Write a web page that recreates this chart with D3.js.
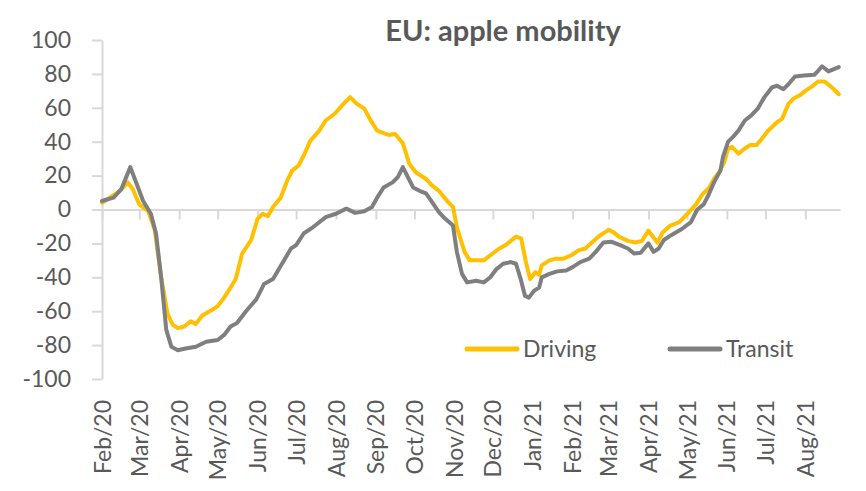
<!DOCTYPE html>
<html>
<head>
<meta charset="utf-8">
<script src="https://cdn.jsdelivr.net/npm/d3@7"></script>
<style>
  body { margin: 0; background: #fff; }
  text { font-family: "Lato", "Open Sans", sans-serif; fill: #595959; }
</style>
</head>
<body>
<div id="chart"></div>
<script>
// values (7-day averages, % vs baseline)
var drivingDates = ["2020-02-01","2020-02-15","2020-02-21","2020-02-25","2020-03-01","2020-03-08","2020-03-13","2020-03-18","2020-03-23","2020-03-27","2020-03-31","2020-04-05","2020-04-10","2020-04-14","2020-04-19","2020-04-26","2020-05-01","2020-05-06","2020-05-11","2020-05-15","2020-05-20","2020-05-27","2020-06-01","2020-06-05","2020-06-09","2020-06-13","2020-06-19","2020-06-24","2020-06-28","2020-07-03","2020-07-07","2020-07-12","2020-07-19","2020-07-24","2020-07-31","2020-08-07","2020-08-12","2020-08-17","2020-08-23","2020-08-28","2020-09-02","2020-09-07","2020-09-11","2020-09-16","2020-09-22","2020-09-27","2020-10-02","2020-10-10","2020-10-15","2020-10-20","2020-10-27","2020-10-31","2020-11-03","2020-11-09","2020-11-13","2020-11-18","2020-11-24","2020-11-29","2020-12-06","2020-12-11","2020-12-15","2020-12-19","2020-12-23","2020-12-27","2020-12-30","2021-01-03","2021-01-06","2021-01-08","2021-01-14","2021-01-19","2021-01-25","2021-01-31","2021-02-06","2021-02-11","2021-02-16","2021-02-22","2021-03-01","2021-03-05","2021-03-09","2021-03-16","2021-03-22","2021-03-27","2021-04-01","2021-04-05","2021-04-08","2021-04-12","2021-04-18","2021-04-25","2021-05-02","2021-05-08","2021-05-13","2021-05-18","2021-05-22","2021-05-26","2021-05-30","2021-06-02","2021-06-05","2021-06-10","2021-06-15","2021-06-19","2021-06-24","2021-06-28","2021-07-03","2021-07-10","2021-07-14","2021-07-19","2021-07-23","2021-07-28","2021-08-01","2021-08-06","2021-08-11","2021-08-16","2021-08-21","2021-08-27"];
var drivingValues = [4,11,16,12,3,-1,-12,-40,-61.5,-68,-70,-69,-66,-67.5,-62.5,-59.5,-57,-52,-46,-41,-26,-18,-5.5,-2.5,-4,1.5,7,17,23,26,32,40.5,46.5,52.5,56.5,62.5,66.3,62.5,59.5,52.5,46.5,45,44,44.5,39,27,22,18,14,11,4.5,1.5,-10.5,-25,-30,-30,-30,-27,-23,-21,-18.5,-16,-17,-32,-41,-37,-38.5,-33,-30,-29,-29,-27,-24,-23,-19.5,-15.5,-12,-13.5,-16,-18.5,-19.5,-18.5,-12.5,-16.5,-19.5,-13.5,-9.5,-7.5,-2,3,9,12.5,18,22,28,36,37,33,36,38,38,41.5,46.5,51.5,53.5,62.5,65.5,67.5,70,72.5,75.5,75.5,72.5,68];

var transitDates = ["2020-02-01","2020-02-10","2020-02-16","2020-02-23","2020-02-28","2020-03-04","2020-03-10","2020-03-14","2020-03-18","2020-03-22","2020-03-26","2020-03-31","2020-04-06","2020-04-14","2020-04-22","2020-05-01","2020-05-06","2020-05-11","2020-05-16","2020-05-23","2020-05-31","2020-06-06","2020-06-13","2020-06-20","2020-06-27","2020-07-01","2020-07-07","2020-07-14","2020-07-19","2020-07-24","2020-08-01","2020-08-09","2020-08-16","2020-08-23","2020-08-29","2020-09-02","2020-09-07","2020-09-14","2020-09-18","2020-09-22","2020-09-26","2020-09-30","2020-10-05","2020-10-10","2020-10-15","2020-10-20","2020-10-25","2020-10-31","2020-11-03","2020-11-07","2020-11-11","2020-11-18","2020-11-24","2020-11-29","2020-12-04","2020-12-09","2020-12-15","2020-12-19","2020-12-23","2020-12-26","2020-12-29","2021-01-02","2021-01-06","2021-01-08","2021-01-14","2021-01-20","2021-01-27","2021-02-01","2021-02-07","2021-02-14","2021-02-19","2021-02-25","2021-03-03","2021-03-10","2021-03-16","2021-03-21","2021-03-26","2021-04-01","2021-04-05","2021-04-09","2021-04-13","2021-04-19","2021-04-27","2021-05-04","2021-05-09","2021-05-14","2021-05-18","2021-05-22","2021-05-27","2021-05-29","2021-06-02","2021-06-06","2021-06-10","2021-06-15","2021-06-20","2021-06-25","2021-06-30","2021-07-06","2021-07-10","2021-07-15","2021-07-19","2021-07-24","2021-07-31","2021-08-08","2021-08-10","2021-08-14","2021-08-19","2021-08-27"];
var transitValues = [5,7,12,25,15,5,-2.5,-14,-40,-71,-81,-83,-82,-81,-78,-77,-74,-69,-67,-60,-53,-44,-41,-32,-23,-21,-14,-10.5,-7.5,-4.5,-2.5,0.5,-2,-1,1.5,7,13,16,19,25,19,13,11,9.5,4,-1.5,-5.5,-9.5,-25,-38,-43,-42,-43,-40,-35,-32,-31,-32,-42,-51,-52,-48,-46,-40,-38,-36.5,-36,-34,-31,-29,-25,-19.5,-19,-21,-23,-26,-25.5,-20,-25,-23,-18,-15,-11.5,-7.5,0,3,9,16,23,31,40,43,46.5,52.5,55.5,59.5,66,72,73,71,74,78.5,79,79.5,81,84.5,81.5,84];

var seriesNames = ["Driving", "Transit"];
var seriesColors = ["#FFC000", "#7F7F7F"];
var yTicks = [-100, -80, -60, -40, -20, 0, 20, 40, 60, 80, 100];
var titleText = "EU: apple mobility";

var parseDate = d3.timeParse("%Y-%m-%d");
var series = [
  { name: seriesNames[0], color: seriesColors[0],
    values: drivingDates.map(function(d, i) { return { date: parseDate(d), value: drivingValues[i] }; }) },
  { name: seriesNames[1], color: seriesColors[1],
    values: transitDates.map(function(d, i) { return { date: parseDate(d), value: transitValues[i] }; }) }
];

var svg = d3.select("#chart").append("svg")
    .attr("width", 866)
    .attr("height", 491);

var margin = {top: 40, right: 26, bottom: 112, left: 102},
    width = 866 - margin.left - margin.right,
    height = 491 - margin.top - margin.bottom,
    g = svg.append("g").attr("transform", "translate(" + margin.left + "," + margin.top + ")");

var x = d3.scaleTime()
    .domain([parseDate("2020-02-01"), parseDate("2021-08-28")])
    .range([0, width]);
var y = d3.scaleLinear().domain([-100, 100]).range([height, 0]);

// title
svg.append("text")
    .attr("x", 503)
    .attr("y", 41)
    .attr("text-anchor", "middle")
    .style("font-size", "29px")
    .style("font-weight", "bold")
    .text(titleText);

// y axis (plain hyphen for negatives, like the original)
var yAxis = g.append("g")
    .attr("class", "axis y")
    .call(d3.axisLeft(y).tickValues(yTicks).tickFormat(function(d) { return String(d); })
      .tickSizeInner(10).tickSizeOuter(0).tickPadding(21));
yAxis.select(".domain").attr("stroke", "#D9D9D9").attr("stroke-width", 2);
yAxis.selectAll(".tick line").attr("stroke", "#D9D9D9").attr("stroke-width", 2);
yAxis.selectAll(".tick text")
    .style("font-size", "23px")
    .style("fill", "#595959");

// x axis sits on zero, labels drop to the bottom
var monthTicks = d3.timeMonth.range(parseDate("2020-02-01"), parseDate("2021-08-02"));
var xAxis = g.append("g")
    .attr("class", "axis x")
    .attr("transform", "translate(0," + y(0) + ")")
    .call(d3.axisBottom(x).tickValues(monthTicks).tickFormat(d3.timeFormat("%b/%y")).tickSizeInner(10).tickSizeOuter(0));
xAxis.select(".domain").attr("stroke", "#D9D9D9").attr("stroke-width", 2);
xAxis.selectAll(".tick line").attr("stroke", "#D9D9D9").attr("stroke-width", 2);
xAxis.selectAll(".tick text")
    .attr("y", 0)
    .attr("dy", "0.35em")
    .attr("text-anchor", "end")
    .attr("transform", "translate(0," + (400 - margin.top - y(0)) + ") rotate(-90)")
    .style("font-size", "23px")
    .style("fill", "#595959");

var line = d3.line()
    .x(function(d) { return x(d.date); })
    .y(function(d) { return y(d.value); });

g.selectAll(".series")
    .data(series)
    .enter()
    .append("path")
    .attr("class", "series")
    .attr("d", function(d) { return line(d.values); })
    .attr("fill", "none")
    .attr("stroke", function(d) { return d.color; })
    .attr("stroke-width", 4)
    .attr("stroke-linejoin", "round")
    .attr("stroke-linecap", "round");

// legend
var legendX = [467, 670];
var legend = svg.selectAll(".legend")
    .data(series)
    .enter()
    .append("g")
    .attr("class", "legend")
    .attr("transform", function(d, i) { return "translate(" + legendX[i] + ",349)"; });
legend.append("line")
    .attr("x1", 0).attr("x2", 50)
    .attr("stroke", function(d) { return d.color; })
    .attr("stroke-width", 5)
    .attr("stroke-linecap", "round");
legend.append("text")
    .attr("x", 56)
    .attr("dy", "0.35em")
    .style("font-size", "23px")
    .text(function(d) { return d.name; });
</script>
</body>
</html>
